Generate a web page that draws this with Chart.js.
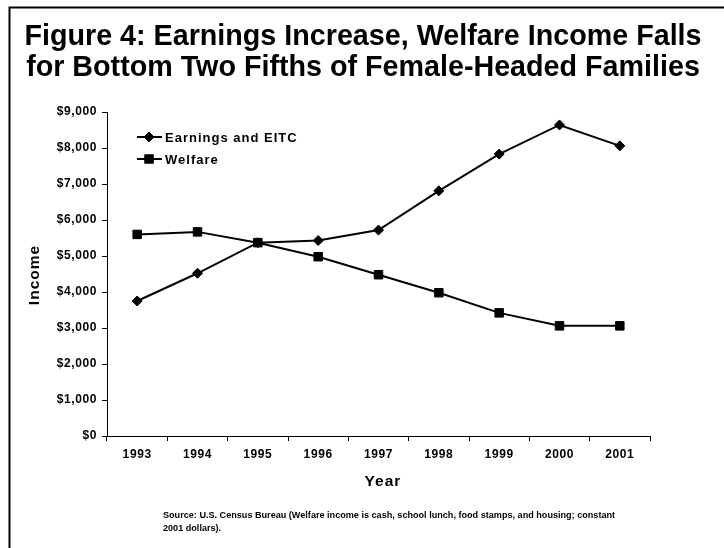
<!DOCTYPE html>
<html>
<head>
<meta charset="utf-8">
<title>Figure 4</title>
<script src="https://cdn.jsdelivr.net/npm/chart.js@4.4.1/dist/chart.umd.min.js"></script>
<style>
  html, body { margin: 0; padding: 0; background: #fff; }
  #wrap { width: 724px; height: 548px; position: relative; }
  canvas { display: block; }
</style>
</head>
<body>
<div id="wrap"><canvas id="chart" width="724" height="548"></canvas></div>
<script>
// Series data (constant 2001 dollars)
const years = ['1993', '1994', '1995', '1996', '1997', '1998', '1999', '2000', '2001'];
const earningsEitc = [3750, 4520, 5370, 5430, 5720, 6810, 7830, 8640, 8060];
const welfare = [5600, 5670, 5370, 4980, 4480, 3980, 3420, 3060, 3060];
const yTickValues = [0, 1000, 2000, 3000, 4000, 5000, 6000, 7000, 8000, 9000];

const titleLines = [
  'Figure 4: Earnings Increase, Welfare Income Falls',
  'for Bottom Two Fifths of Female-Headed Families'
];
const xAxisTitle = 'Year';
const yAxisTitle = 'Income';
const sourceLines = [
  'Source: U.S. Census Bureau (Welfare income is cash, school lunch, food stamps, and housing; constant',
  '2001 dollars).'
];

const FONT = "'Liberation Sans', Arial, Helvetica, sans-serif";

// Slightly spaced lettering for the axis labels
const spacingPlugin = {
  id: 'spacing',
  beforeLayout(chart) { chart.ctx.letterSpacing = '0.6px'; },
  beforeDraw(chart) { chart.ctx.letterSpacing = '0.6px'; }
};

// Page frame, title, axis titles, legend and source note
const decorPlugin = {
  id: 'decor',
  afterDraw(chart) {
    const ctx = chart.ctx;
    const area = chart.chartArea;
    ctx.save();
    ctx.fillStyle = '#000';
    ctx.strokeStyle = '#000';

    // frame lines along the top and left edge
    ctx.lineWidth = 2;
    ctx.beginPath();
    ctx.moveTo(9.5, 548);
    ctx.lineTo(9.5, 7.5);
    ctx.lineTo(724, 7.5);
    ctx.stroke();

    // title
    ctx.letterSpacing = '0px';
    ctx.textAlign = 'center';
    ctx.textBaseline = 'alphabetic';
    ctx.font = 'bold 28.7px ' + FONT;
    ctx.fillText(titleLines[0], 363, 45);
    ctx.fillText(titleLines[1], 363, 76);

    // axis titles
    ctx.letterSpacing = '1px';
    ctx.textBaseline = 'middle';
    ctx.font = 'bold 15.5px ' + FONT;
    ctx.fillText(xAxisTitle, 383, 482);
    ctx.save();
    ctx.translate(35, 275);
    ctx.rotate(-Math.PI / 2);
    ctx.font = 'bold 15.5px ' + FONT;
    ctx.fillText(yAxisTitle, 0, 0);
    ctx.restore();

    // legend inside the plot area
    const legendX = area.left + 30;
    const rows = [137, 159];
    chart.data.datasets.forEach((ds, i) => {
      const y = rows[i];
      ctx.lineWidth = ds.borderWidth;
      ctx.strokeStyle = ds.borderColor;
      ctx.beginPath();
      ctx.moveTo(legendX, y);
      ctx.lineTo(legendX + 25, y);
      ctx.stroke();
      ctx.fillStyle = ds.pointBackgroundColor;
      ctx.strokeStyle = ds.pointBorderColor;
      ctx.lineWidth = ds.pointBorderWidth;
      Chart.helpers.drawPoint(ctx, {
        pointStyle: ds.pointStyle,
        radius: ds.pointRadius,
        rotation: 0,
        borderWidth: ds.pointBorderWidth
      }, legendX + 12, y);
      ctx.fillStyle = '#000';
      ctx.textAlign = 'left';
      ctx.textBaseline = 'middle';
      ctx.letterSpacing = '1px';
      ctx.font = 'bold 13px ' + FONT;
      ctx.fillText(ds.label, legendX + 28, y + 1);
    });

    // source note
    ctx.letterSpacing = '0px';
    ctx.textAlign = 'left';
    ctx.textBaseline = 'middle';
    ctx.font = 'bold 9.1px ' + FONT;
    ctx.fillText(sourceLines[0], 163, 515);
    ctx.fillText(sourceLines[1], 163, 528);
    ctx.restore();
  }
};

const tickFont = { family: FONT, weight: 'bold', size: 12 };

new Chart(document.getElementById('chart'), {
  type: 'line',
  data: {
    labels: years,
    datasets: [
      {
        label: 'Earnings and EITC',
        data: earningsEitc,
        borderColor: '#000',
        backgroundColor: '#000',
        borderWidth: 2,
        pointStyle: 'rectRot',
        pointRadius: 5,
        pointBorderWidth: 1,
        pointBackgroundColor: '#000',
        pointBorderColor: '#000',
        tension: 0,
        fill: false
      },
      {
        label: 'Welfare',
        data: welfare,
        borderColor: '#000',
        backgroundColor: '#000',
        borderWidth: 2,
        pointStyle: 'rect',
        pointRadius: 6,
        pointBorderWidth: 1,
        pointBackgroundColor: '#000',
        pointBorderColor: '#000',
        tension: 0,
        fill: false
      }
    ]
  },
  options: {
    responsive: false,
    animation: false,
    devicePixelRatio: 1,
    layout: { padding: { left: 0, top: 112, right: 74, bottom: 82 } },
    plugins: {
      legend: { display: false },
      title: { display: false },
      tooltip: { enabled: false }
    },
    events: [],
    scales: {
      x: {
        type: 'category',
        offset: true,
        grid: { offset: true, drawOnChartArea: false, drawTicks: true, tickLength: 5, color: '#000' },
        border: { display: true, color: '#000', width: 1 },
        ticks: { color: '#000', font: tickFont, padding: 6, maxRotation: 0, autoSkip: false },
        afterFit(scale) { scale.height = 30; }
      },
      y: {
        type: 'linear',
        min: 0,
        max: 9000,
        afterBuildTicks(scale) { scale.ticks = yTickValues.map(v => ({ value: v })); },
        grid: { drawOnChartArea: false, drawTicks: true, tickLength: 5, color: '#000' },
        border: { display: true, color: '#000', width: 1 },
        ticks: {
          color: '#000',
          font: tickFont,
          padding: 5,
          callback: v => '$' + Number(v).toLocaleString('en-US')
        },
        afterFit(scale) { scale.width = 107; }
      }
    }
  },
  plugins: [spacingPlugin, decorPlugin]
});
</script>
</body>
</html>
